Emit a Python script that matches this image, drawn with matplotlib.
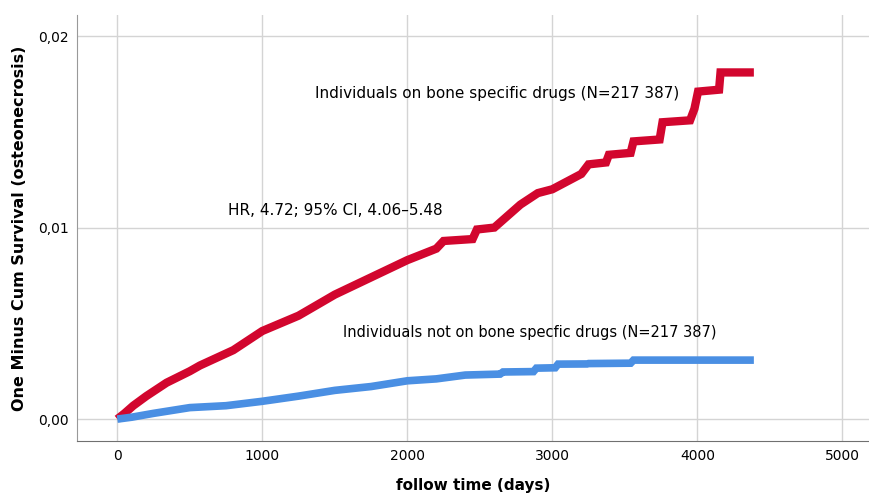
import matplotlib.pyplot as plt
from matplotlib.ticker import FuncFormatter

# cumulative incidence (days, 1 - survival)
red_days = [0, 50, 110, 200, 340, 500, 570, 800, 1000, 1250, 1500, 1750, 2000, 2200, 2250,
            2450, 2480, 2600, 2780, 2900, 3000, 3100, 3200, 3250, 3370, 3390, 3540, 3560,
            3740, 3760, 3950, 3980, 4005, 4150, 4160, 4390]
red_vals = [0, 0.0003, 0.0007, 0.0012, 0.0019, 0.0025, 0.0028, 0.0036, 0.0046, 0.0054, 0.0065,
            0.0074, 0.0083, 0.0089, 0.0093, 0.0094, 0.0099, 0.0100, 0.0112, 0.0118, 0.0120,
            0.0124, 0.0128, 0.0133, 0.0134, 0.0138, 0.0139, 0.0145, 0.0146, 0.0155, 0.0156,
            0.0162, 0.0171, 0.0172, 0.0181, 0.0181]

blue_days = [0, 100, 250, 500, 750, 1000, 1250, 1500, 1750, 2000, 2200, 2400, 2640, 2660,
             2870, 2890, 3020, 3040, 3240, 3250, 3540, 3560, 4390]
blue_vals = [0, 0.0001, 0.0003, 0.0006, 0.0007, 0.00093, 0.0012, 0.0015, 0.0017, 0.0020,
             0.0021, 0.0023, 0.00235, 0.00246, 0.00248, 0.00266, 0.00268, 0.00287, 0.00288,
             0.0029, 0.00292, 0.00308, 0.00308]

red = '#d2062e'
blue = '#4a8fe3'

fig = plt.figure(figsize=(8.69, 4.93), dpi=100)
ax = fig.add_axes([0.0886, 0.106, 0.9114, 0.8636])

ax.plot(red_days, red_vals, color=red, lw=6, solid_capstyle='butt', solid_joinstyle='miter')
ax.plot(blue_days, blue_vals, color=blue, lw=5.5, solid_capstyle='butt', solid_joinstyle='miter')

ax.text(1363, 0.01702, 'Individuals on bone specific drugs (N=217 387)', fontsize=11, va='center')
ax.text(764, 0.01091, 'HR, 4.72; 95% CI, 4.06\u20135.48', fontsize=11, va='center')
ax.text(1557, 0.00454, 'Individuals not on bone specfic drugs (N=217 387)', fontsize=10.5, va='center')

ax.set_xlim(-278, 5184)
ax.set_ylim(-0.00113, 0.0211)
ax.set_xticks([0, 1000, 2000, 3000, 4000, 5000])
ax.set_yticks([0, 0.01, 0.02])
ax.yaxis.set_major_formatter(FuncFormatter(lambda v, p: f'{v:.2f}'.replace('.', ',')))
ax.tick_params(length=0, labelsize=10, pad=6)
ax.grid(True, color='#d4d4d4', lw=1)
ax.set_axisbelow(True)
for s in ['top', 'right']:
    ax.spines[s].set_visible(False)
ax.spines['left'].set_color('#999999')
ax.spines['bottom'].set_color('#707070')

ax.set_xlabel('follow time (days)', fontsize=11, fontweight='bold', labelpad=11)
ax.set_ylabel('One Minus Cum Survival (osteonecrosis)', fontsize=11.5, fontweight='bold', labelpad=8)

fig.savefig('out.png')
